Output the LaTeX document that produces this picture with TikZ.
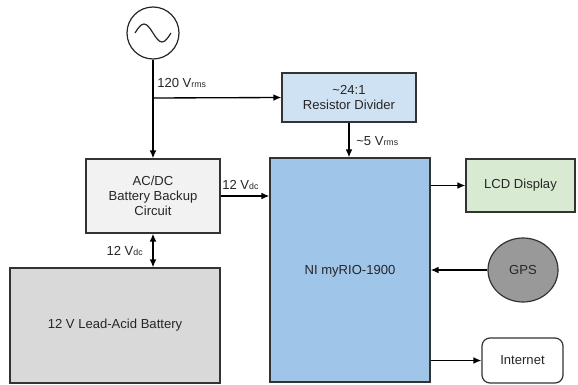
\documentclass[tikz,border=0pt]{standalone}
\usepackage{fontspec}
\setmainfont{Liberation Sans}
\usetikzlibrary{arrows.meta,shapes.geometric}
\newcommand{\subs}[1]{{\fontsize{6.6}{7}\selectfont #1}}
\begin{document}
\begin{tikzpicture}[x=0.75pt,y=-0.75pt,
  every node/.style={font=\fontsize{9.8}{11.2}\selectfont, text=black!85},
  blk/.style={draw=black!80, line width=0.9pt, align=center, inner sep=0pt},
  conn/.style={draw=black, line width=1pt, -{Latex[length=6pt,width=5pt]}},
  lbl/.style={inner sep=0pt}]
\useasboundingbox (0,0) rectangle (578,385);
\node[circle, draw=black!85, line width=0.9pt, minimum size=39pt, inner sep=0pt] (src) at (153,33) {};
\draw[line width=0.9pt, black!85] (135,33) sin (144,24) cos (153,33) sin (162,42) cos (171,33);
\node[blk, fill=black!5, minimum width=100.5pt, minimum height=55.5pt] (acdc) at (153,196) {AC/DC\\Battery Backup\\Circuit};
\node[blk, fill={rgb,255:red,207;green,226;blue,243}, minimum width=100.5pt, minimum height=36.75pt] (res) at (349,97.5) {\textasciitilde24:1\\Resistor Divider};
\node[blk, fill={rgb,255:red,159;green,197;blue,232}, minimum width=120pt, minimum height=168pt] (rio) at (350,270) {};
\node at (350,271) {NI myRIO-1900};
\node[blk, fill={rgb,255:red,217;green,217;blue,217}, minimum width=157.5pt, minimum height=86.25pt] (bat) at (115,325.5) {12 V Lead-Acid Battery};
\node[blk, fill={rgb,255:red,217;green,234;blue,211}, minimum width=81.75pt, minimum height=39.75pt] (lcd) at (520.5,185.5) {LCD Display};
\node[blk, ellipse, fill={rgb,255:red,153;green,153;blue,153}, minimum width=52.5pt, minimum height=48pt] (gps) at (523,270) {GPS};
\node[blk, rounded corners=6pt, fill=white, minimum width=60.75pt, minimum height=33.75pt] (inet) at (522.5,360.5) {Internet};
\coordinate (j) at (153,98);
\draw[conn] (src.south) -- (acdc.north);
\draw[conn] (j) -- (res.west);
\draw[conn] (res.south) -- (res.south |- rio.north);
\draw[conn] (acdc.east) -- (acdc.east -| rio.west);
\draw[draw=black, line width=1pt, {Latex[length=6pt,width=5pt]}-{Latex[length=6pt,width=5pt]}] (acdc.south) -- (acdc.south |- bat.north);
\draw[conn] (lcd.west -| rio.east) -- (lcd.west);
\draw[conn] (gps.west) -- (gps.west -| rio.east);
\draw[conn] (inet.west -| rio.east) -- (inet.west);
\node[lbl, anchor=west] (l1) at (157,83) {120 V\subs{rms}};
\node[lbl, anchor=west] (l2) at (356,141) {\textasciitilde5 V\subs{rms}};
\node[lbl, anchor=west] (l3) at (222,185) {12 V\subs{dc}};
\node[lbl, anchor=east] (l4) at (143,251) {12 V\subs{dc}};
\end{tikzpicture}
\end{document}
